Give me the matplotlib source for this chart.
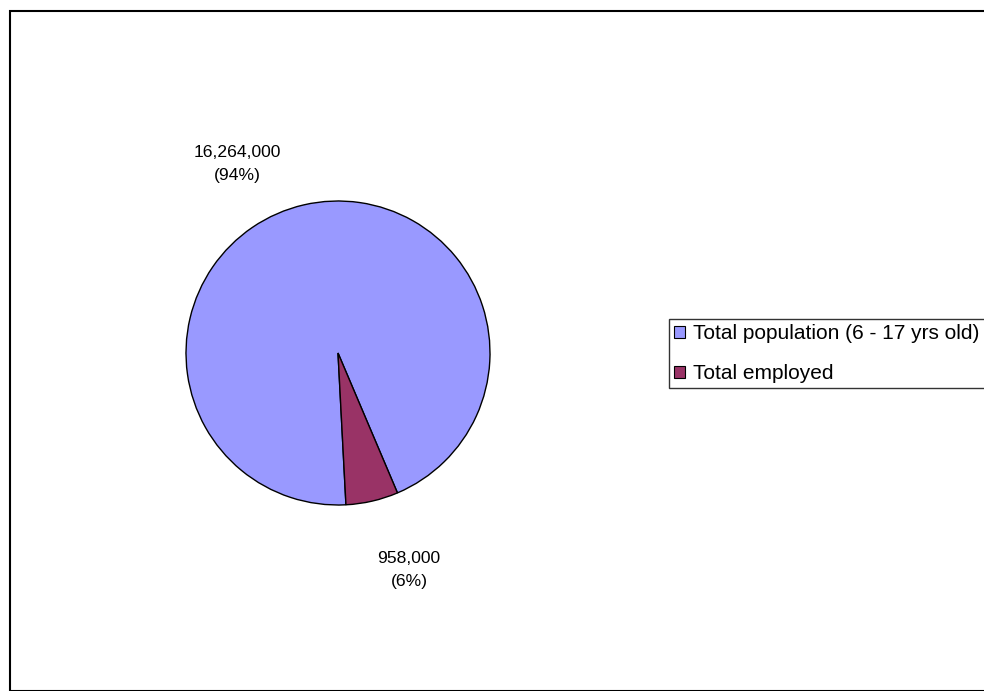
import matplotlib.pyplot as plt
from matplotlib.patches import Rectangle, Patch

# data
categories = ['Total population (6 - 17 yrs old)', 'Total employed']
values = [16264000, 958000]
colors = ['#9999FF', '#993366']

plt.rcParams['font.family'] = ['Liberation Sans', 'DejaVu Sans']

W, H = 984, 691
fig = plt.figure(figsize=(W / 100, H / 100), dpi=100)

# outer chart border (cut off at right and bottom like the original)
fig.patches.append(Rectangle((10 / W, 0), 2.0, 1 - 11 / H, transform=fig.transFigure,
                             fill=False, edgecolor='black', linewidth=1.5))

# pie axes, centre (338, 353) px, radius 152 px
cx, cy, r = 338, 353, 152
ax = fig.add_axes([(cx - r) / W, (H - cy - r) / H, 2 * r / W, 2 * r / H])
total = sum(values)
start = -90 + 360 * values[1] / total + 3
ax.pie(values, colors=colors, startangle=start, counterclock=True, radius=1,
       wedgeprops=dict(edgecolor='black', linewidth=1.0))
ax.set_xlim(-1, 1)
ax.set_ylim(-1, 1)
ax.set_aspect('equal')
ax.axis('off')

# labels
pcts = [round(100 * v / total) for v in values]
label_pos = [(-0.664, 1.245), (0.467, -1.43)]
for v, p, (lx, ly) in zip(values, pcts, label_pos):
    ax.text(lx, ly, f'{v:,}\n({p}%)', ha='center', va='center', fontsize=12.6,
            linespacing=1.65, clip_on=False)

# legend
handles = [Patch(facecolor=c, edgecolor='black', linewidth=0.8) for c in colors]
leg = fig.legend(handles, categories, loc='upper left',
                 bbox_to_anchor=(669 / W, 1 - 319 / H), fontsize=15,
                 frameon=True, fancybox=False, edgecolor='black',
                 handlelength=0.5, handleheight=0.5, handletextpad=0.4,
                 labelspacing=1.0, borderpad=0.25, borderaxespad=0)
leg.get_frame().set_linewidth(1.0)

fig.savefig('out.png', dpi=100)
